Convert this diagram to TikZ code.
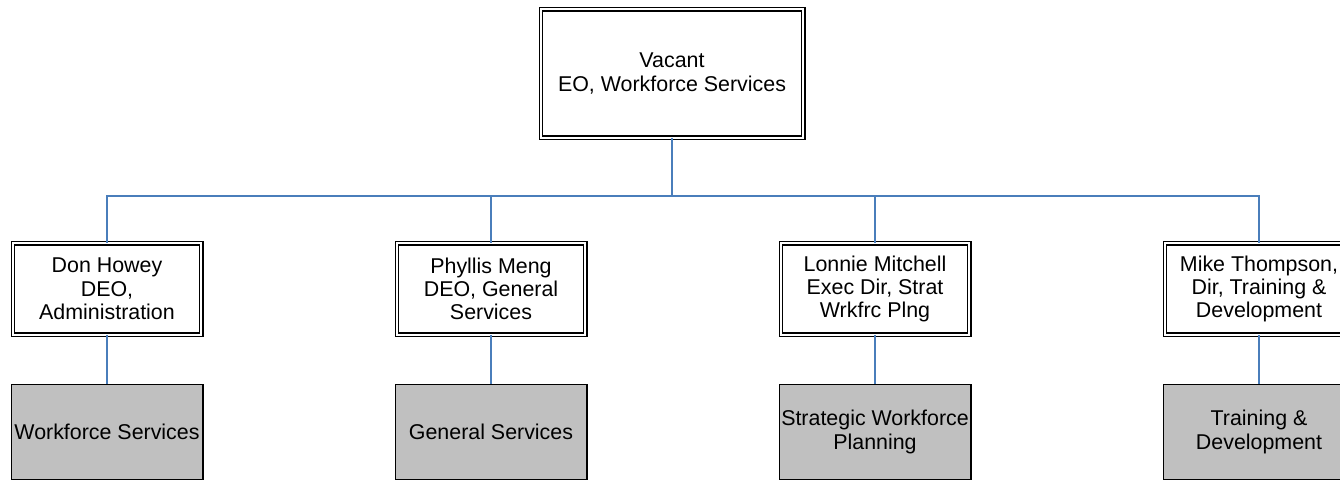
\documentclass[tikz,border=0pt]{standalone}
\usepackage{fontspec}
\setmainfont{Liberation Sans}
\usepackage{xcolor}
\usepackage{tikz}
\definecolor{linkblue}{RGB}{74,126,187}
\definecolor{unitgray}{RGB}{192,192,192}

\begin{document}
\begin{tikzpicture}[x=1pt,y=-1pt,
    font=\fontsize{21.4}{23.3}\selectfont,
    headbox/.style={draw=black, double=white, line width=1.4pt, double distance=2pt,
        align=center, inner sep=1pt},
    unitbox/.style={draw=black, fill=unitgray, line width=1.3pt, align=center,
        minimum width=191.7pt, minimum height=94.7pt, inner sep=1pt},
    link/.style={draw=linkblue, line width=1.3pt}]
    \useasboundingbox (0,0) rectangle (1340,479);
    % top of the chart
    \node[headbox, minimum width=262.2pt, minimum height=128.2pt] (eo) at (672,73.5)
        {Vacant\\EO, Workforce Services};
    \coordinate (bus) at (672,196);
    \draw[link] (eo.south) -- (bus);
    % the four branches
    \foreach \x/\n/\who/\unit in {
        107/adm/{Don Howey\\DEO,\\Administration}/{Workforce Services},
        491/gen/{Phyllis Meng\\DEO, General\\Services}/{General Services},
        875/swp/{Lonnie Mitchell\\Exec Dir, Strat\\Wrkfrc Plng}/{Strategic Workforce\\Planning},
        1259/trn/{Mike Thompson,\\Dir, Training \&\\Development}/{Training \&\\Development}}
    {
        \node[headbox, minimum width=188.2pt, minimum height=91.2pt] (head\n) at (\x,289) {\who};
        \node[unitbox] (unit\n) at (\x,432) {\unit};
        \draw[link] (bus) -| (head\n.north);
        \draw[link] (head\n.south) -- (unit\n.north);
    }
\end{tikzpicture}
\end{document}
